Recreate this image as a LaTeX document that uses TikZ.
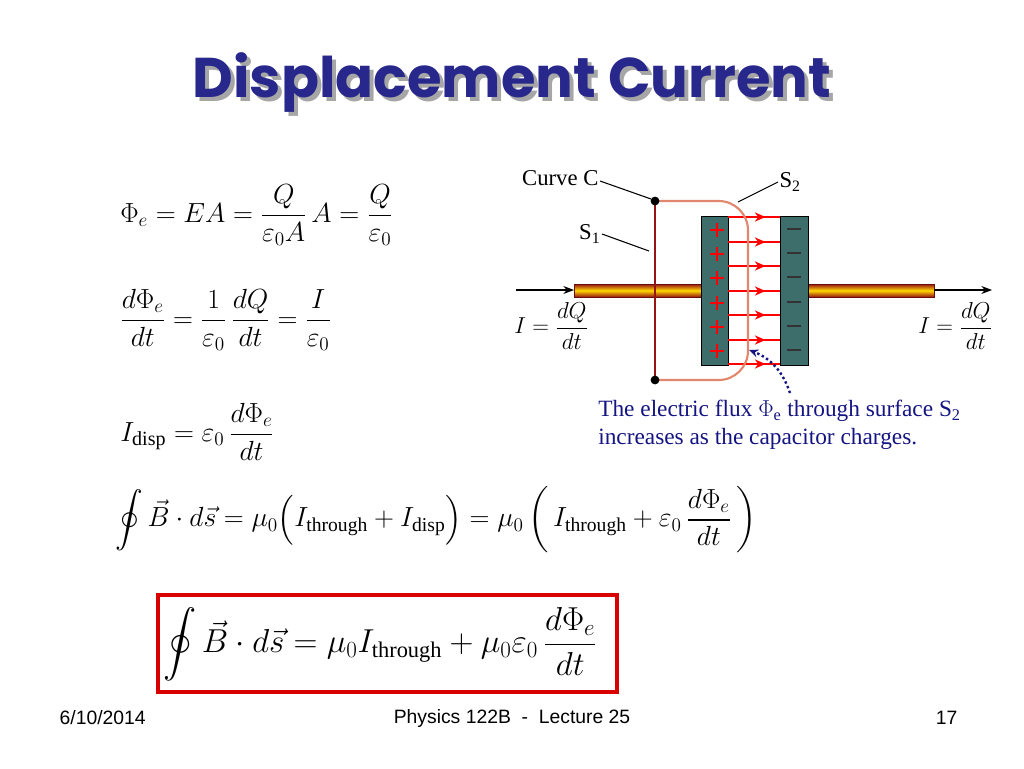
\documentclass[tikz,border=0pt]{standalone}
\usepackage{amsmath}
\usepackage{fontspec}
\setmainfont{Liberation Serif}
\newfontfamily\titlefont{Poppins}
\newfontfamily\footfont{Liberation Sans}
\usetikzlibrary{arrows.meta,decorations.markings}
\definecolor{navy}{RGB}{40,40,140}
\definecolor{fluxblue}{RGB}{20,20,130}
\definecolor{plate}{RGB}{62,110,108}
\definecolor{loopc}{RGB}{225,135,110}
\definecolor{rodred}{RGB}{150,20,20}
\tikzset{
  eq/.style={anchor=west,inner sep=0pt,font=\fontsize{21.5}{26}\selectfont},
  foot/.style={font=\footfont\fontsize{14.5}{16}\selectfont},
  lab/.style={font=\fontsize{17}{20}\selectfont,inner sep=1pt},
  lead/.style={black,line width=0.8pt},
  field/.style={red,line width=0.9pt,postaction={decorate},decoration={markings,mark=at position 0.72 with {\arrow{Stealth[length=8pt,width=7pt]}}}},
  wire/.style={top color=rodred,bottom color=rodred,middle color=yellow!70!orange,draw=rodred!70!black,line width=0.5pt}
}
\begin{document}
\begin{tikzpicture}[x=0.75pt,y=-0.75pt]
\useasboundingbox (0,0) rectangle (1024,768);
% title
\node[text=gray!70,font=\titlefont\bfseries\fontsize{42}{48}\selectfont] at (516,87) {Displacement Current};
\node (title) [text=navy,font=\titlefont\bfseries\fontsize{42}{48}\selectfont] at (512,83) {Displacement Current};
% equations
\node (e1) [eq] at (120,215) {$\Phi_e = EA = \dfrac{Q}{\varepsilon_0 A}\,A = \dfrac{Q}{\varepsilon_0}$};
\node (e2) [eq] at (120,320) {$\dfrac{d\Phi_e}{dt} = \dfrac{1}{\varepsilon_0}\,\dfrac{dQ}{dt} = \dfrac{I}{\varepsilon_0}$};
\node (e3) [eq] at (120,432) {$I_{\mathrm{disp}} = \varepsilon_0\,\dfrac{d\Phi_e}{dt}$};
\node (e4) [eq,font=\fontsize{21}{26}\selectfont] at (115,520) {$\displaystyle\oint \vec B\cdot d\vec s = \mu_0\Big(I_{\mathrm{through}} + I_{\mathrm{disp}}\Big) = \mu_0\left(\,I_{\mathrm{through}} + \varepsilon_0\,\dfrac{d\Phi_e}{dt}\,\right)$};
\node (e5) [eq,font=\fontsize{24}{30}\selectfont] at (163,644) {$\displaystyle\oint \vec B\cdot d\vec s = \mu_0 I_{\mathrm{through}} + \mu_0\varepsilon_0\,\dfrac{d\Phi_e}{dt}$};
\draw[red!85!black,line width=2.4pt] (158,595) rectangle (617,692);
% wires
\draw[wire] (574,284) rectangle (701,297);
\draw[wire] (808,284) rectangle (934,297);
\coordinate (la) at (516,290); \coordinate (lb) at (574,290);
\coordinate (ra) at (934,290); \coordinate (rb) at (992,290);
\draw[-{Stealth[length=8pt,width=6pt]},line width=0.8pt] (la) -- (lb);
\draw[-{Stealth[length=8pt,width=6pt]},line width=0.8pt] (ra) -- (rb);
% loop S1 and curve C
\coordinate (ct) at (655,201); \coordinate (cb) at (655,380);
\draw[rodred,line width=1.6pt] (ct) -- (cb);
% plates
\node (pl) [draw=black,fill=plate,minimum width=27*0.75pt,minimum height=149*0.75pt,inner sep=0pt,line width=0.6pt] at (714.5,290.5) {};
\node (pr) [draw=black,fill=plate,minimum width=28*0.75pt,minimum height=149*0.75pt,inner sep=0pt,line width=0.6pt] at (794,290.5) {};
\foreach \y in {217,242,266,291,315,340,364}{\draw[field] (728,\y) -- (780,\y);}
\foreach \y in {230,254,278,303,327,351}{
  \draw[red,line width=1.6pt] (710,\y) -- (724,\y) (717,\y-7) -- (717,\y+7);
  \draw[black!80,line width=1.4pt] (787,\y-1) -- (801,\y-1);}
% S2 surface
\draw[loopc,line width=1.6pt,rounded corners=22pt] (ct) -- (748,201) -- (748,380) -- (cb);
\fill (ct) circle (3.3pt); \fill (cb) circle (3.3pt);
% labels
\node (cc) [lab,anchor=east] at (600,178) {Curve C};
\draw[lead] (cc.east) ++(0,3) -- (651,199);
\node (s2) [lab,anchor=west] at (778,182) {S\textsubscript{2}};
\draw[lead] (738,202) -- (s2.west);
\node (s1) [lab,anchor=east] at (602,234) {S\textsubscript{1}};
\draw[lead] (s1.east) -- (649,251);
\node (il) [eq,font=\fontsize{18}{20}\selectfont] at (514,326) {$I = \dfrac{dQ}{dt}$};
\node (ir) [eq,font=\fontsize{18}{20}\selectfont] at (918,326) {$I = \dfrac{dQ}{dt}$};
% flux text
\node (ft) [anchor=north west,text=fluxblue,font=\fontsize{17.5}{21}\selectfont,align=left,inner sep=0pt] at (598,400) {The electric flux $\Phi_{\mathrm{e}}$ through surface S\textsubscript{2}\\increases as the capacitor charges.};
\coordinate (fa) at (790,393);
\draw[fluxblue,line width=1.8pt,dotted,-{Stealth[length=7pt,width=6pt]}] (fa) to[bend right=25] (749,350);
% footer
\node[foot,anchor=west] at (55,718) {6/10/2014};
\node[foot] at (512,718) {Physics 122B \ - \ Lecture 25};
\node[foot,anchor=east] at (962,718) {17};
\end{tikzpicture}
\end{document}
